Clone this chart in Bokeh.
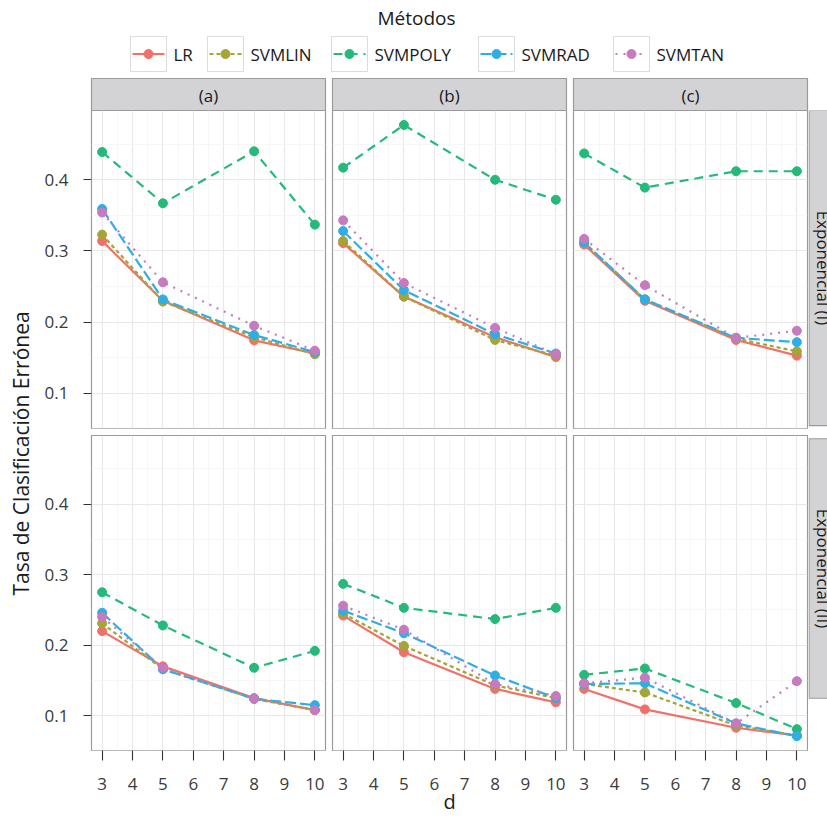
import math
from bokeh.plotting import figure
from bokeh.models import Range1d, FixedTicker, LinearAxis, Grid, ColumnDataSource
from bokeh.layouts import row, column
from bokeh.embed import file_html
from bokeh.resources import INLINE
from bokeh.core.properties import value

# ---------------- data ----------------
methods = ["LR", "SVMLIN", "SVMPOLY", "SVMRAD", "SVMTAN"]
d = [3, 5, 8, 10]
col_labels = ["(a)", "(b)", "(c)"]
row_labels = ["Exponencial (I)", "Exponencial (II)"]
x_ticks = [3, 4, 5, 6, 7, 8, 9, 10]
y_ticks = [0.1, 0.2, 0.3, 0.4]
legend_title = "Métodos"
x_title = "d"
y_title = "Tasa de Clasificación Errónea"

# Exponencial (I)
LR_Ia = [0.314, 0.230, 0.1745, 0.156]
SVMLIN_Ia = [0.323, 0.229, 0.179, 0.155]
SVMPOLY_Ia = [0.439, 0.367, 0.440, 0.337]
SVMRAD_Ia = [0.359, 0.232, 0.182, 0.158]
SVMTAN_Ia = [0.354, 0.256, 0.195, 0.160]

LR_Ib = [0.311, 0.236, 0.179, 0.151]
SVMLIN_Ib = [0.314, 0.236, 0.175, 0.153]
SVMPOLY_Ib = [0.417, 0.477, 0.400, 0.372]
SVMRAD_Ib = [0.328, 0.245, 0.183, 0.156]
SVMTAN_Ib = [0.343, 0.255, 0.192, 0.155]

LR_Ic = [0.309, 0.230, 0.175, 0.153]
SVMLIN_Ic = [0.312, 0.232, 0.177, 0.159]
SVMPOLY_Ic = [0.437, 0.389, 0.412, 0.412]
SVMRAD_Ic = [0.312, 0.232, 0.178, 0.172]
SVMTAN_Ic = [0.317, 0.252, 0.178, 0.188]

# Exponencial (II)
LR_IIa = [0.220, 0.170, 0.125, 0.108]
SVMLIN_IIa = [0.231, 0.166, 0.124, 0.108]
SVMPOLY_IIa = [0.275, 0.228, 0.168, 0.192]
SVMRAD_IIa = [0.246, 0.166, 0.124, 0.115]
SVMTAN_IIa = [0.240, 0.168, 0.124, 0.108]

LR_IIb = [0.242, 0.190, 0.138, 0.119]
SVMLIN_IIb = [0.245, 0.199, 0.143, 0.125]
SVMPOLY_IIb = [0.287, 0.253, 0.237, 0.253]
SVMRAD_IIb = [0.249, 0.217, 0.157, 0.125]
SVMTAN_IIb = [0.256, 0.222, 0.145, 0.128]

LR_IIc = [0.138, 0.109, 0.083, 0.072]
SVMLIN_IIc = [0.145, 0.133, 0.086, 0.072]
SVMPOLY_IIc = [0.158, 0.167, 0.118, 0.081]
SVMRAD_IIc = [0.145, 0.146, 0.089, 0.071]
SVMTAN_IIc = [0.146, 0.154, 0.089, 0.149]

panels = {
    (0, 0): [LR_Ia, SVMLIN_Ia, SVMPOLY_Ia, SVMRAD_Ia, SVMTAN_Ia],
    (0, 1): [LR_Ib, SVMLIN_Ib, SVMPOLY_Ib, SVMRAD_Ib, SVMTAN_Ib],
    (0, 2): [LR_Ic, SVMLIN_Ic, SVMPOLY_Ic, SVMRAD_Ic, SVMTAN_Ic],
    (1, 0): [LR_IIa, SVMLIN_IIa, SVMPOLY_IIa, SVMRAD_IIa, SVMTAN_IIa],
    (1, 1): [LR_IIb, SVMLIN_IIb, SVMPOLY_IIb, SVMRAD_IIb, SVMTAN_IIb],
    (1, 2): [LR_IIc, SVMLIN_IIc, SVMPOLY_IIc, SVMRAD_IIc, SVMTAN_IIc],
}

# ---------------- styles ----------------
colors = ["#F0716A", "#A3A536", "#25B97A", "#2FAEE5", "#C57BBE"]
dashes = ["solid", "4 3", "9 6", "11 4", "2 6"]
FONT = "Open Sans"
TXT = "#1a1a1a"
AX_TXT = "#3a3a3a"
STRIP_FILL = "#d3d3d5"
STRIP_LINE = "#9a9a9a"
BORDER = "#9a9a9a"

# scales (ggplot-like 5% expansion)
all_y = [v for vals in panels.values() for s in vals for v in s]
ymin, ymax = min(all_y), max(all_y)
ypad = 0.05 * (ymax - ymin)
ylim = (ymin - ypad, ymax + ypad)
xpad = 0.05 * (max(d) - min(d))
xlim = (min(d) - xpad, max(d) + xpad)
x_minor = [t + 0.5 for t in x_ticks[:-1]]
y_minor = [round(t - 0.05, 3) for t in y_ticks] + [round(y_ticks[-1] + 0.05, 3)]

# ---------------- layout geometry (page px) ----------------
W_TOTAL = 827
HDR_H = 110
YLAB_W = 36
col_w = [292, 241, 239]
col_bl = [55, 4, 4]
col_br = [3, 3, 1]
STRIP_W = 19
FRAME_W = 234
FRAME_H = 318
row_bt = [0, 4]
row_bb = [3, 64]
row_h = [row_bt[0] + FRAME_H + row_bb[0], row_bt[1] + FRAME_H + row_bb[1]]


def base_fig(w, h, xr, yr, **kw):
    p = figure(width=w, height=h, x_range=xr, y_range=yr, toolbar_location=None,
               output_backend="svg", x_axis_location=None, y_axis_location=None, **kw)
    p.center = []  # drop default grids
    p.outline_line_color = None
    p.background_fill_color = "white"
    p.border_fill_color = "white"
    return p


def panel(r, c):
    p = base_fig(col_w[c], row_h[r], Range1d(*xlim), Range1d(*ylim),
                 min_border_left=col_bl[c], min_border_right=col_br[c],
                 min_border_top=row_bt[r], min_border_bottom=row_bb[r])
    p.outline_line_color = BORDER
    p.outline_line_width = 1.2
    p.add_layout(Grid(dimension=0, ticker=FixedTicker(ticks=x_ticks, minor_ticks=x_minor),
                      grid_line_color="#e8e8e8", grid_line_width=1.1,
                      minor_grid_line_color="#f3f3f3", minor_grid_line_width=0.7))
    p.add_layout(Grid(dimension=1, ticker=FixedTicker(ticks=y_ticks, minor_ticks=y_minor),
                      grid_line_color="#e8e8e8", grid_line_width=1.1,
                      minor_grid_line_color="#f3f3f3", minor_grid_line_width=0.7))
    if c == 0:
        ya = LinearAxis(ticker=FixedTicker(ticks=y_ticks), axis_line_color=None,
                        major_tick_in=0, major_tick_out=8, minor_tick_in=0, minor_tick_out=0,
                        major_tick_line_color="#333333", major_tick_line_width=1.1,
                        major_label_standoff=15, major_label_text_font=FONT,
                        major_label_text_font_size="17px", major_label_text_color=AX_TXT)
        p.add_layout(ya, "left")
    if r == 1:
        xa = LinearAxis(ticker=FixedTicker(ticks=x_ticks), axis_line_color=None,
                        major_tick_in=0, major_tick_out=10, minor_tick_in=0, minor_tick_out=0,
                        major_tick_line_color="#333333", major_tick_line_width=1.1,
                        major_label_standoff=17, major_label_text_font=FONT,
                        major_label_text_font_size="17px", major_label_text_color=AX_TXT)
        if c == 1:
            xa.axis_label = x_title
            xa.axis_label_standoff = -5
            xa.axis_label_text_font = FONT
            xa.axis_label_text_font_size = "20px"
            xa.axis_label_text_font_style = "normal"
            xa.axis_label_text_color = TXT
        p.add_layout(xa, "below")
    series = panels[(r, c)]
    srcs = [ColumnDataSource(dict(x=d, y=s)) for s in series]
    for i, src in enumerate(srcs):
        p.line("x", "y", source=src, line_color=colors[i], line_width=2.2,
               line_dash=dashes[i])
    for i, src in enumerate(srcs):
        p.scatter("x", "y", source=src, size=9, fill_color=colors[i], line_color=colors[i])
    return p


# header: title, legend, top strips (page coordinates)
hdr = base_fig(W_TOTAL, HDR_H, Range1d(0, W_TOTAL), Range1d(HDR_H, 0), min_border=0)
hdr.text(x=[416], y=[17], text=[legend_title], text_font=value(FONT), text_font_size="19px",
         text_align="center", text_baseline="middle", text_color=TXT)
key_left = [130, 207, 331, 478, 613]
for i, m in enumerate(methods):
    L = key_left[i]
    hdr.quad(left=[L], right=[L + 36], top=[36], bottom=[71], fill_color="white",
             line_color="#dcdcdc", line_width=1)
    hdr.segment(x0=[L + 2], x1=[L + 34], y0=[53.5], y1=[53.5], line_color=colors[i],
                line_width=2.2, line_dash=dashes[i])
    hdr.scatter(x=[L + 18], y=[53.5], size=9, fill_color=colors[i], line_color=colors[i])
    hdr.text(x=[L + 43], y=[54], text=[m], text_font=value(FONT), text_font_size="17px",
             text_align="left", text_baseline="middle", text_color=TXT)
strip_l = [91, 332, 573]
for c in range(3):
    hdr.quad(left=[strip_l[c]], right=[strip_l[c] + FRAME_W], top=[78], bottom=[110.5],
             fill_color=STRIP_FILL, line_color=STRIP_LINE, line_width=1.2)
    hdr.text(x=[strip_l[c] + FRAME_W / 2], y=[94.5], text=[col_labels[c]],
             text_font=value(FONT), text_font_size="17px", text_align="center",
             text_baseline="middle", text_color=TXT)

# y-axis title column
body_h = sum(row_h)
ylab = base_fig(YLAB_W, body_h, Range1d(0, YLAB_W), Range1d(HDR_H + body_h, HDR_H), min_border=0)
ylab.text(x=[20.5], y=[453], text=[y_title], angle=math.pi / 2, text_font=value(FONT),
          text_font_size="21px", text_align="center", text_baseline="middle", text_color=TXT)

# right strips
rows = []
top = HDR_H
x0s = W_TOTAL - STRIP_W
for r in range(2):
    s = base_fig(STRIP_W, row_h[r], Range1d(x0s, W_TOTAL), Range1d(top + row_h[r], top),
                 min_border=0)
    ft = top + row_bt[r]
    fb = ft + FRAME_H
    s.quad(left=[x0s + 0.5], right=[x0s + 33], top=[ft], bottom=[fb], fill_color=STRIP_FILL,
           line_color=STRIP_LINE, line_width=1.2)
    s.text(x=[823], y=[(ft + fb) / 2], text=[row_labels[r]], angle=-math.pi / 2,
           text_font=value(FONT), text_font_size="17px", text_align="center",
           text_baseline="middle", text_color=TXT)
    rows.append(row(panel(r, 0), panel(r, 1), panel(r, 2), s))
    top += row_h[r]

layout = column(hdr, row(ylab, column(*rows)))

open("out.html", "w").write(file_html(layout, INLINE))
